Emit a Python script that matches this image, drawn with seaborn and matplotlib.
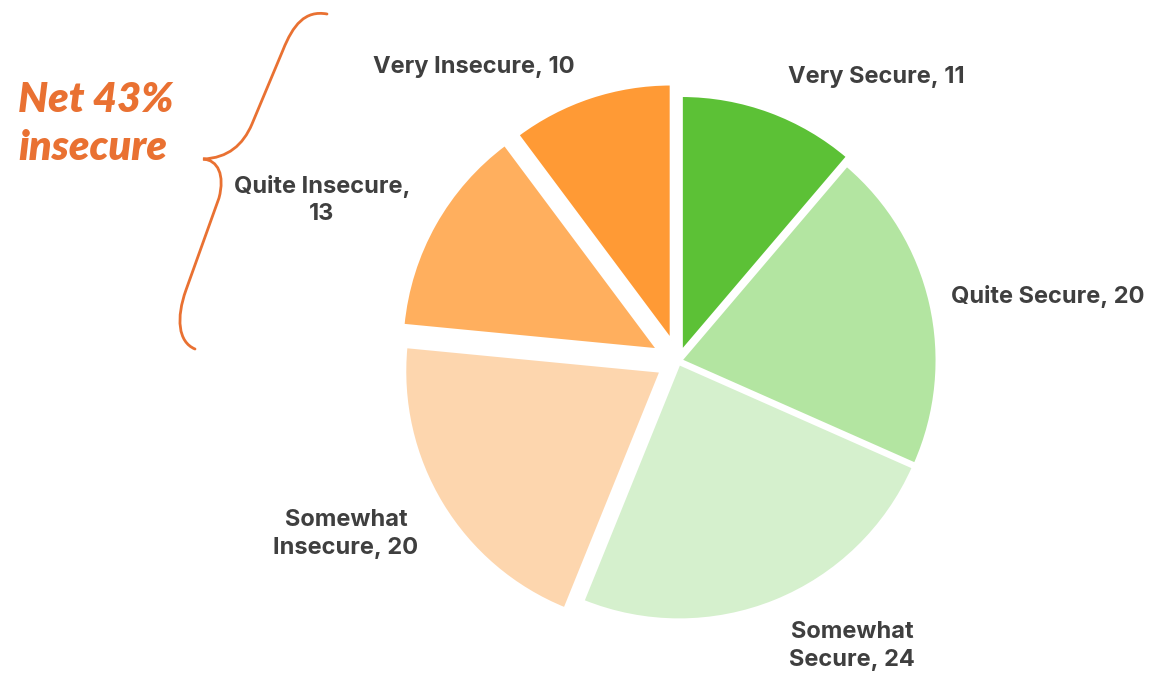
import numpy as np
import matplotlib
matplotlib.use("Agg")
import matplotlib.pyplot as plt
from matplotlib.path import Path
from matplotlib.patches import PathPatch
import seaborn as sns

# data, clockwise from 12 o'clock
categories = ["Very Secure", "Quite Secure", "Somewhat Secure",
              "Somewhat Insecure", "Quite Insecure", "Very Insecure"]
values = [11, 20, 24, 20, 13, 10]
label_texts = ["Very Secure, 11", "Quite Secure, 20", "Somewhat\nSecure, 24",
               "Somewhat\nInsecure, 20", "Quite Insecure,\n13", "Very Insecure, 10"]
net_text = "Net 43%\ninsecure"

# styling / layout (image pixel coords)
colors = ["#5CC136", "#B3E5A1", "#D5F0CD", "#FDD6AE", "#FFAF5E", "#FF9A35"]
explode_px = [10, 3, 3, 20, 23, 22]   # pie() takes explode in data units
label_pos = [(876, 77), (1048, 297), (852, 646), (346, 534), (322, 200), (474, 67)]

W, H = 1174, 687
cx, cy, R = 678, 361, 256

sns.set_theme(style="white")
plt.rcParams["font.family"] = ["Inter", "DejaVu Sans"]

fig = plt.figure(figsize=(W / 100, H / 100), dpi=100)
ax = fig.add_axes([0, 0, 1, 1])

ax.pie(values, colors=colors, startangle=90, counterclock=False,
       explode=explode_px, center=(cx, H - cy), radius=R,
       wedgeprops=dict(edgecolor="white", linewidth=2))
ax.set_xlim(0, W)
ax.set_ylim(0, H)
ax.set_aspect("equal")
ax.axis("off")

for txt, (x, y) in zip(label_texts, label_pos):
    ax.text(x, H - y, txt, ha="center", va="center", multialignment="center",
            fontsize=17, fontweight="bold", color="#3F3F3F", linespacing=1.3)

orange = "#E97132"
ax.text(18, H - 124, net_text, ha="left", va="center", fontsize=30,
        fontweight="heavy", style="italic", color=orange,
        family=["Lato", "DejaVu Sans"], linespacing=1.32)

# curly brace
pts = [(327, 14), (305, 10), (293, 25), (283, 50),
       (252, 124),
       (243, 145), (228, 158), (203, 159),
       (218, 160), (225, 175), (219, 198),
       (186, 290),
       (176, 318), (178, 342), (195, 349)]
codes = [Path.MOVETO, Path.CURVE4, Path.CURVE4, Path.CURVE4,
         Path.LINETO,
         Path.CURVE4, Path.CURVE4, Path.CURVE4,
         Path.CURVE4, Path.CURVE4, Path.CURVE4,
         Path.LINETO,
         Path.CURVE4, Path.CURVE4, Path.CURVE4]
brace = Path([(x, H - y) for x, y in pts], codes)
ax.add_patch(PathPatch(brace, facecolor="none", edgecolor=orange, lw=2,
                       capstyle="round"))

fig.savefig("out.png", dpi=100, facecolor="white")
